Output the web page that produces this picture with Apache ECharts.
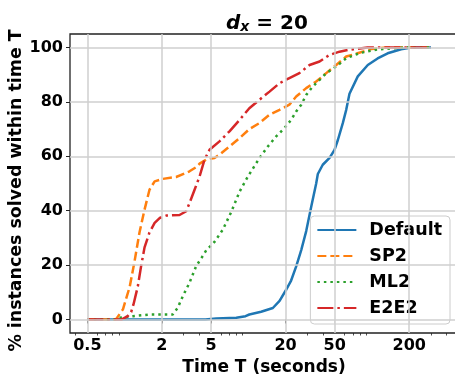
<!DOCTYPE html>
<html>
<head>
<meta charset="utf-8">
<script src="https://cdn.jsdelivr.net/npm/echarts@6/dist/echarts.min.js"></script>
<style>
  html, body { margin: 0; padding: 0; background: #fff; }
  #chart { width: 455px; height: 374px; }
</style>
</head>
<body>
<div id="chart"></div>
<script>
// time T (seconds), % instances solved
const defaultData = [[0.5, 0], [4.5, 0], [5.5, 0.3], [8, 0.6], [9.5, 1.2], [10.2, 1.8], [12.7, 2.8], [15.8, 4.2], [17.9, 6.8], [20.3, 11], [22.2, 14.3], [24.4, 19.5], [26.8, 25.5], [29.4, 32.5], [32.3, 41.5], [35.4, 50], [36.5, 53.5], [40, 56.9], [45.4, 59.4], [49.8, 62.4], [53, 66], [58.1, 72.2], [61.9, 77.1], [65.8, 83], [76.8, 89.4], [92.5, 93.6], [111, 96], [134, 97.9], [172, 99.4], [208, 100], [300, 100]]
const sp2Data = [[0.5, 0], [0.85, 0], [0.88, 0.6], [0.97, 3.7], [1.1, 12], [1.2, 21], [1.32, 32], [1.45, 40.4], [1.59, 47.7], [1.75, 50.8], [2.04, 51.7], [2.61, 52.4], [3.15, 53.9], [3.35, 54.5], [3.79, 56], [4.04, 57.3], [4.57, 58.8], [5.33, 59.4], [5.85, 60.6], [7.05, 63.6], [8.5, 66.7], [10.2, 70], [12.3, 72.2], [14.85, 75.3], [17.9, 77.1], [21.5, 79], [24.4, 82], [29.4, 85.1], [35.4, 87.5], [42.7, 90.6], [51.4, 93.6], [61.9, 96.7], [76.4, 97.9], [98.6, 99.5], [130, 100], [300, 100]]
const ml2Data = [[0.5, 0], [0.85, 0], [0.9, 0.6], [1.17, 1.2], [1.59, 1.8], [2.45, 1.8], [2.69, 4.3], [2.96, 8.6], [3.35, 13.5], [3.79, 19.6], [4.2, 22.7], [4.57, 25.4], [5.33, 28.5], [6.22, 33], [7.28, 39.5], [8.5, 47], [9.91, 52.5], [12.33, 59.4], [14.39, 63.6], [16.8, 67.3], [19.6, 70.4], [22.2, 73.4], [24.4, 76.5], [26.8, 79], [29.4, 82.6], [33.2, 85.7], [37.7, 88.1], [42.7, 90.6], [51.4, 93], [61.9, 96.1], [80, 98], [110, 99.3], [180, 100], [300, 100]]
const e2e2Data = [[0.5, 0], [0.95, 0], [1.06, 1.2], [1.13, 2.7], [1.18, 5.5], [1.28, 12.2], [1.36, 19.6], [1.45, 26.5], [1.59, 32], [1.75, 35.5], [1.92, 37.3], [2.17, 38.2], [2.78, 38.4], [3.15, 39.8], [3.35, 42.8], [3.68, 47.7], [4.04, 52.6], [4.43, 58.8], [4.86, 62.4], [5.85, 65.5], [7.05, 69.2], [8.5, 73.4], [10.2, 77.7], [12.3, 80.8], [14.85, 83.8], [17.9, 86.9], [21.5, 88.8], [25.9, 90.6], [31.3, 93.6], [37.7, 94.9], [45.4, 97.3], [54.7, 98.5], [63.8, 99.1], [92, 100], [300, 100]]

const xTicks = [0.5, 2, 5, 20, 50, 200]
const xMinorTicks = [0.4, 0.6, 0.7, 0.8, 0.9, 3, 4, 6, 7, 8, 9, 30, 40, 60, 70, 80, 90, 300, 400]
const yTicks = [0, 20, 40, 60, 80, 100]
const seriesNames = ['Default', 'SP2', 'ML2', 'E2E2']

const FONT = 'DejaVu Sans'
const chart = echarts.init(document.getElementById('chart'), null, { renderer: 'canvas' })

const mkLine = (name, data, color, dash) => ({
  name,
  type: 'line',
  data,
  xAxisIndex: 0,
  showSymbol: false,
  symbol: 'none',
  z: 3,
  lineStyle: { width: 2.5, color, type: dash, cap: 'butt' },
  itemStyle: { color },
})

const option = {
  animation: false,
  title: {
    text: '{d|d}{x|x}{n| = 20}',
    left: 221,
    top: 3,
    textStyle: {
      rich: {
        d: { fontFamily: FONT, fontSize: 20, fontWeight: 'bold', fontStyle: 'italic', color: '#000', lineHeight: 26, verticalAlign: 'bottom' },
        x: { fontFamily: FONT, fontSize: 14, fontWeight: 'bold', fontStyle: 'italic', color: '#000', lineHeight: 12, verticalAlign: 'bottom' },
        n: { fontFamily: FONT, fontSize: 20, fontWeight: 'bold', color: '#000', lineHeight: 26, verticalAlign: 'bottom' },
      },
    },
  },
  grid: {
    left: 70, top: 34, right: -3, bottom: 41,
    outerBoundsMode: 'none',
    containLabel: false,
    show: true, borderColor: '#222', borderWidth: 1.3, backgroundColor: 'transparent',
  },
  legend: {
    data: seriesNames,
    orient: 'vertical',
    right: 5,
    bottom: 50,
    itemWidth: 39,
    itemHeight: 18,
    itemGap: 8,
    padding: [5, 8, 7, 6],
    backgroundColor: 'rgba(255,255,255,0.85)',
    borderColor: '#cccccc',
    borderWidth: 1,
    borderRadius: 4,
    itemStyle: { opacity: 0 },
    formatter: '{t|{name}}',
    textStyle: {
      rich: {
        t: { fontFamily: FONT, fontSize: 17.5, fontWeight: 'bold', color: '#000', lineHeight: 18, padding: [0, 0, 0, 8] },
      },
    },
  },
  xAxis: [
    {
      type: 'log',
      position: 'bottom',
      min: 0.362,
      max: 496,
      name: 'Time T (seconds)',
      nameLocation: 'middle',
      nameGap: 26,
      nameMoveOverlap: false,
      nameTextStyle: { fontFamily: FONT, fontSize: 17, fontWeight: 'bold', color: '#000' },
      axisLine: { show: false },
      axisTick: { show: true, customValues: xTicks, length: 4, lineStyle: { color: '#222', width: 1 } },
      axisLabel: {
        customValues: xTicks,
        margin: 5,
        fontFamily: FONT, fontSize: 16, fontWeight: 'bold', color: '#000',
        formatter: (v) => String(+Number(v).toPrecision(3)),
      },
      splitLine: { show: false },
    },
    {
      type: 'log',
      position: 'bottom',
      min: 0.362,
      max: 496,
      axisLine: { show: false },
      axisTick: { show: true, customValues: xMinorTicks, length: 2.5, lineStyle: { color: '#222', width: 0.8 } },
      axisLabel: { show: false },
      splitLine: { show: false },
    },
  ],
  yAxis: {
    type: 'value',
    min: -5,
    max: 105,
    name: '% instances solved within time T',
    nameLocation: 'middle',
    nameGap: 45,
    nameMoveOverlap: false,
    nameTextStyle: { fontFamily: FONT, fontSize: 17.4, fontWeight: 'bold', color: '#000', padding: [0, 14, 0, 0] },
    axisLine: { show: false },
    axisTick: { show: true, customValues: yTicks, length: 4, lineStyle: { color: '#222', width: 1 } },
    axisLabel: {
      customValues: yTicks,
      margin: 7,
      fontFamily: FONT, fontSize: 16, fontWeight: 'bold', color: '#000',
    },
    splitLine: { show: false },
  },
  series: [
    {
      name: 'grid',
      type: 'line',
      data: [],
      xAxisIndex: 0,
      z: 1,
      silent: true,
      markLine: {
        silent: true,
        symbol: 'none',
        label: { show: false },
        animation: false,
        lineStyle: { color: '#cfcfcf', width: 1.5, type: 'solid' },
        data: xTicks.map((v) => ({ xAxis: v })).concat(yTicks.map((v) => ({ yAxis: v }))),
      },
    },
    mkLine('Default', defaultData, '#1f77b4', 'solid'),
    mkLine('SP2', sp2Data, '#ff7f0e', [9, 4]),
    mkLine('ML2', ml2Data, '#2ca02c', [2.5, 4]),
    mkLine('E2E2', e2e2Data, '#d62728', [16, 4, 2.5, 4]),
  ],
}

chart.setOption(option)
</script>
</body>
</html>
